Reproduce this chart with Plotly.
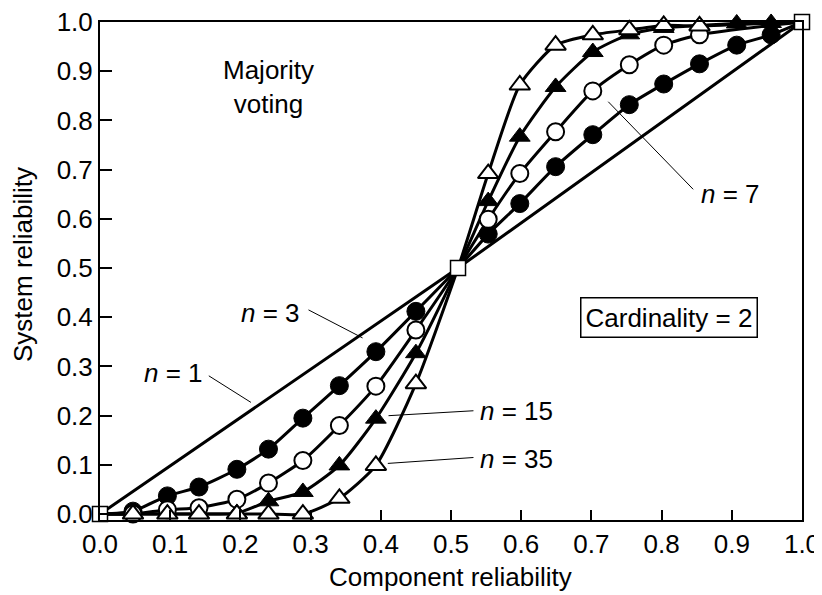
import plotly.graph_objects as go

# ---- data ----
X_PTS = [0.047, 0.096, 0.141, 0.195, 0.24, 0.289, 0.341, 0.393, 0.45,
         0.553, 0.598, 0.649, 0.702, 0.754, 0.803, 0.854, 0.907, 0.956]

# shared end / crossing points (open squares)
SQ_X = [0.0, 0.51, 1.0]
SQ_Y = [0.0, 0.5, 1.0]

N3_Y = [0.006, 0.037, 0.055, 0.091, 0.132, 0.195, 0.261, 0.33, 0.412,
        0.569, 0.631, 0.706, 0.771, 0.832, 0.874, 0.915, 0.953, 0.974]
N7_Y = [0.0, 0.009, 0.013, 0.03, 0.063, 0.109, 0.18, 0.26, 0.374,
        0.599, 0.692, 0.777, 0.86, 0.913, 0.953, 0.974]
N15_Y = [0.0, 0.0, 0.0, 0.002, 0.026, 0.045, 0.099, 0.194, 0.327,
         0.636, 0.767, 0.868, 0.939, 0.975, 0.988, 0.993, 0.997, 0.998]
N35_Y = [0.0, 0.0, 0.0, 0.0, 0.0, 0.0, 0.032, 0.099, 0.265,
         0.692, 0.872, 0.953, 0.974, 0.984, 0.993, 0.992]

X_TICKS = [0.0, 0.1, 0.2, 0.3, 0.4, 0.5, 0.6, 0.7, 0.8, 0.9, 1.0]
Y_TICKS = [0.0, 0.1, 0.2, 0.3, 0.4, 0.5, 0.6, 0.7, 0.8, 0.9, 1.0]

FONT = "Liberation Sans, Arial, Helvetica, sans-serif"
FS = 26
BLACK = "#000000"

# page body has an 8px margin, so the figure is 8px smaller each way
OFF = 8
W, H = 822 - OFF, 595 - OFF
ML, MT = 100 - OFF, 22 - OFF
PLOT_RIGHT, PLOT_BOTTOM = 802 - OFF, 520 - OFF
MR, MB = W - PLOT_RIGHT, H - PLOT_BOTTOM
PW, PH = W - ML - MR, H - MT - MB


def full_curve(ys):
    xs = X_PTS[:len(ys)]
    left = [(x, y) for x, y in zip(xs, ys) if x < SQ_X[1]]
    right = [(x, y) for x, y in zip(xs, ys) if x > SQ_X[1]]
    px = [SQ_X[0]] + [p[0] for p in left] + [SQ_X[1]] + [p[0] for p in right] + [SQ_X[2]]
    py = [SQ_Y[0]] + [p[1] for p in left] + [SQ_Y[1]] + [p[1] for p in right] + [SQ_Y[2]]
    return px, py


fig = go.Figure()

# n = 1 straight line
fig.add_trace(go.Scatter(x=SQ_X, y=SQ_Y, mode="lines",
                         line=dict(color=BLACK, width=3), showlegend=False,
                         cliponaxis=False))

# curves
for ys in (N3_Y, N7_Y, N15_Y, N35_Y):
    cx, cy = full_curve(ys)
    fig.add_trace(go.Scatter(x=cx, y=cy, mode="lines",
                             line=dict(color=BLACK, width=3, shape="spline", smoothing=0.6),
                             showlegend=False, cliponaxis=False))

# markers
marker_styles = [
    (N3_Y, dict(symbol="circle", size=18, color=BLACK, line=dict(color=BLACK, width=1))),
    (N7_Y, dict(symbol="circle", size=17, color="white", line=dict(color=BLACK, width=2))),
    (N15_Y, dict(symbol="triangle-up", size=18, color=BLACK, line=dict(color=BLACK, width=1))),
    (N35_Y, dict(symbol="triangle-up", size=18, color="white", line=dict(color=BLACK, width=2))),
]
for ys, mk in marker_styles:
    fig.add_trace(go.Scatter(x=X_PTS[:len(ys)], y=ys, mode="markers", marker=mk,
                             showlegend=False, cliponaxis=False))

# squares
fig.add_trace(go.Scatter(x=SQ_X, y=SQ_Y, mode="markers",
                         marker=dict(symbol="square", size=15, color="white",
                                     line=dict(color=BLACK, width=1.5)),
                         showlegend=False, cliponaxis=False))

# leader lines
leaders = [
    ((0.724, 0.838), (0.845, 0.66)),   # n = 7
    ((0.297, 0.415), (0.374, 0.358)),  # n = 3
    ((0.155, 0.281), (0.215, 0.227)),  # n = 1
    ((0.411, 0.20), (0.532, 0.21)),    # n = 15
    ((0.41, 0.103), (0.532, 0.115)),   # n = 35
]
for (x0, y0), (x1, y1) in leaders:
    fig.add_shape(type="line", x0=x0, y0=y0, x1=x1, y1=y1, xref="x", yref="y",
                  line=dict(color=BLACK, width=1))

labels = [
    ("<i>n</i> = 7", 0.853, 0.65, "left"),
    ("<i>n</i> = 3", 0.243, 0.409, "center"),
    ("<i>n</i> = 1", 0.104, 0.287, "center"),
    ("<i>n</i> = 15", 0.538, 0.21, "left"),
    ("<i>n</i> = 35", 0.538, 0.111, "left"),
]
for txt, x, y, anc in labels:
    fig.add_annotation(x=x, y=y, xref="x", yref="y", text=txt, showarrow=False,
                       xanchor=anc, yanchor="middle",
                       font=dict(family=FONT, size=FS, color=BLACK))

fig.add_annotation(x=0.24, y=0.868, xref="x", yref="y", text="Majority<br>voting",
                   showarrow=False, xanchor="center", yanchor="middle", align="center",
                   font=dict(family=FONT, size=FS, color=BLACK))

fig.add_annotation(x=0.81, y=0.40, xref="x", yref="y", text="Cardinality = 2",
                   showarrow=False, xanchor="center", yanchor="middle",
                   bordercolor=BLACK, borderwidth=1.5, borderpad=4, bgcolor="white",
                   font=dict(family=FONT, size=FS, color=BLACK))

# axis titles (placed in paper space; page pixel targets minus body offset)
fig.add_annotation(x=(450 - OFF - ML) / PW, y=-(577 - OFF - (MT + PH)) / PH,
                   xref="paper", yref="paper",
                   text="Component reliability", showarrow=False,
                   xanchor="center", yanchor="middle",
                   font=dict(family=FONT, size=FS, color=BLACK))
fig.add_annotation(x=(23 - OFF - ML) / PW, y=(MT + PH - (265 - OFF)) / PH,
                   xref="paper", yref="paper",
                   text="System reliability", showarrow=False, textangle=-90,
                   xanchor="center", yanchor="middle",
                   font=dict(family=FONT, size=FS, color=BLACK))

fig.update_layout(
    width=W, height=H,
    margin=dict(l=ML, r=MR, t=MT, b=MB, autoexpand=False),
    plot_bgcolor="white", paper_bgcolor="white",
    font=dict(family=FONT, size=FS, color=BLACK),
    showlegend=False,
)
fig.update_xaxes(
    range=[0, 1.0], tickvals=X_TICKS, ticktext=[f"{v:.1f}" for v in X_TICKS],
    ticks="inside", ticklen=10, tickwidth=1.5, tickcolor=BLACK,
    showline=True, linecolor=BLACK, linewidth=2, mirror=True,
    showgrid=False, zeroline=False, automargin=False, ticklabeloverflow="allow",
    tickfont=dict(family=FONT, size=FS, color=BLACK),
)
fig.update_yaxes(
    range=[-0.012, 1.0], tickvals=Y_TICKS, ticktext=[f"{v:.1f}" for v in Y_TICKS],
    ticks="inside", ticklen=12, tickwidth=1.5, tickcolor=BLACK,
    showline=True, linecolor=BLACK, linewidth=2, mirror=True,
    showgrid=False, zeroline=False, automargin=False, ticklabeloverflow="allow",
    tickfont=dict(family=FONT, size=FS, color=BLACK),
)

fig.write_html("out.html")
